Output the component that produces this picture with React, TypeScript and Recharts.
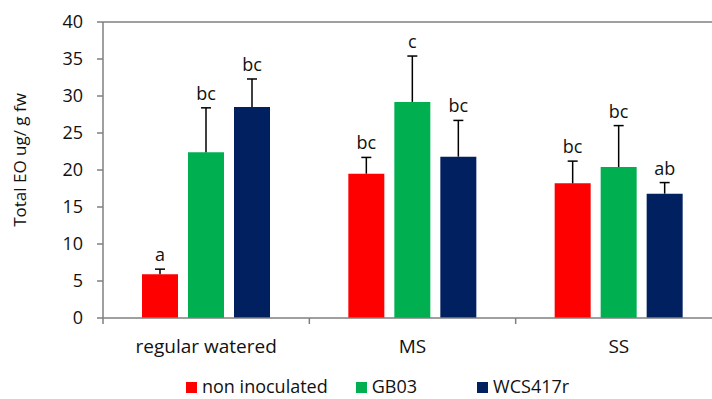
import { BarChart, Bar, XAxis, YAxis, ReferenceLine, LabelList, Legend } from "recharts";

const categories = ["regular watered", "MS", "SS"];
const nonInoculated = [5.9, 19.5, 18.2];
const gb03 = [22.4, 29.2, 20.4];
const wcs417r = [28.5, 21.8, 16.8];
const nonInoculatedErr = [0.7, 2.2, 3.0];
const gb03Err = [6.0, 6.2, 5.6];
const wcs417rErr = [3.8, 4.9, 1.5];
const nonInoculatedLetters = ["a", "bc", "bc"];
const gb03Letters = ["bc", "c", "bc"];
const wcs417rLetters = ["bc", "bc", "ab"];
const yTicks = [0, 5, 10, 15, 20, 25, 30, 35, 40];

const FONT = "'Open Sans', sans-serif";
const AXIS = "#7f7f7f";

const data = categories.map((name, i) => ({
    name,
    nonInoculated: nonInoculated[i],
    gb03: gb03[i],
    wcs417r: wcs417r[i],
}));

const series = [
    { key: "nonInoculated", label: "non inoculated", color: "#ff0000", err: nonInoculatedErr, letters: nonInoculatedLetters, gap: 28 },
    { key: "gb03", label: "GB03", color: "#00b050", err: gb03Err, letters: gb03Letters, gap: 60 },
    { key: "wcs417r", label: "WCS417r", color: "#002060", err: wcs417rErr, letters: wcs417rLetters, gap: 0 },
];

const CHART_W = 722;
const PLOT_LEFT = 103;
const BAND = (CHART_W - PLOT_LEFT) / categories.length;

// error bar (upward only) + significance letter on top of each bar
const makeErrLabel = (err: number[], letters: string[]) => (props: any) => {
    const { x, y, width, height, value, index } = props;
    const cx = Number(x) + Number(width) / 2;
    const top = Number(y);
    const errPx = (Number(height) / Number(value)) * err[index];
    const yErr = top - errPx;
    return (
        <g>
            <line x1={cx} y1={top} x2={cx} y2={yErr} stroke="#000" strokeWidth={1.5} />
            <line x1={cx - 5} y1={yErr} x2={cx + 5} y2={yErr} stroke="#000" strokeWidth={1.5} />
            <text x={cx} y={yErr - 8} textAnchor="middle" fontSize={18} fontFamily={FONT} fill="#111">
                {letters[index]}
            </text>
        </g>
    );
};

const CategoryTick = (props: any) => {
    const { x, y, payload } = props;
    return (
        <g>
            <line x1={x - BAND / 2} y1={y - 8} x2={x - BAND / 2} y2={y - 2} stroke={AXIS} strokeWidth={1.5} />
            <text x={x} y={y + 27} textAnchor="middle" fontSize={19} fontFamily={FONT} fill="#111">
                {payload.value}
            </text>
        </g>
    );
};

const LegendContent = () => (
    <div style={{ display: "flex", fontFamily: FONT, fontSize: 18, lineHeight: "25px", color: "#111", height: 25, alignItems: "center", paddingLeft: 186, boxSizing: "border-box" }}>
        {series.map((s) => (
            <div key={s.key} style={{ display: "flex", alignItems: "center", marginRight: s.gap }}>
                <span style={{ display: "inline-block", width: 11, height: 11, background: s.color, marginRight: 5, marginTop: 2 }} />
                <span>{s.label}</span>
            </div>
        ))}
    </div>
);

export default function App() {
    return (
        <div style={{ position: "absolute", left: 0, top: 0, width: 712, height: 399, overflow: "hidden", background: "#fff" }}>
            <BarChart
                width={CHART_W}
                height={399}
                data={data}
                margin={{ top: 22, right: 0, bottom: 0, left: 0 }}
                barSize={36}
                barGap={10}
            >
                <ReferenceLine y={40} stroke={AXIS} strokeWidth={1.5} />
                <XAxis
                    dataKey="name"
                    height={56}
                    stroke={AXIS}
                    strokeWidth={1.5}
                    tickLine={false}
                    tick={<CategoryTick />}
                    interval={0}
                />
                <YAxis
                    width={PLOT_LEFT}
                    domain={[0, 40]}
                    ticks={yTicks}
                    stroke={AXIS}
                    strokeWidth={1.5}
                    tickSize={6}
                    tickMargin={14}
                    tick={{ fill: "#111", fontSize: 18, fontFamily: FONT }}
                    label={{
                        value: "Total EO ug/ g fw",
                        angle: -90,
                        position: "insideLeft",
                        dx: 15,
                        dy: -10,
                        style: { fill: "#111", fontSize: 17, fontFamily: FONT, textAnchor: "middle" },
                    }}
                />
                <Legend verticalAlign="bottom" height={25} content={<LegendContent />} />
                {series.map((s) => (
                    <Bar key={s.key} dataKey={s.key} name={s.label} fill={s.color} isAnimationActive={false}>
                        <LabelList dataKey={s.key} content={makeErrLabel(s.err, s.letters)} />
                    </Bar>
                ))}
            </BarChart>
        </div>
    );
}
